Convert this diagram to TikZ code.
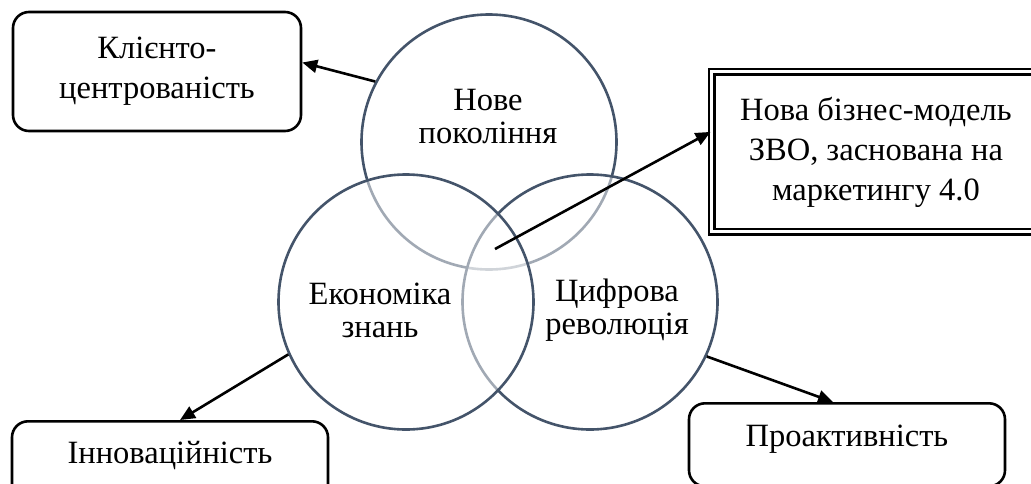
\documentclass[tikz,border=0pt]{standalone}
\usepackage{fontspec}
\setmainfont{Liberation Serif}
\usetikzlibrary{arrows.meta,calc}
\definecolor{ring}{HTML}{44546A}
\begin{document}
\begin{tikzpicture}[x=1pt,y=-1pt,
  circ/.style={circle,draw=ring,line width=2.6pt,fill=white,fill opacity=0.5,minimum size=255pt,inner sep=0pt},
  ctext/.style={align=center,font=\fontsize{32.5}{33}\selectfont,inner sep=0pt},
  rbox/.style={draw=black,line width=2.6pt,rounded corners=16pt,fill=white},
  btext/.style={align=center,font=\fontsize{32.5}{40}\selectfont},
  arr/.style={line width=2.6pt,-{Triangle[length=15pt,width=13pt]}}]
\useasboundingbox (0,0) rectangle (1031,483);
\clip (0,0) rectangle (1031,483);
% circles
\node[circ] (top) at (489,142) {};
\node[circ] (right) at (590,302) {};
\node[circ] (left) at (406,302) {};
\node[ctext] (ttop) at (488,117) {Нове\\покоління};
\node[ctext] (tleft) at (380,310) {Економіка\\знань};
\node[ctext] (tright) at (617,310) {Цифрова\\революція};
% boxes
\node[rbox,btext,minimum width=288pt,minimum height=119pt,inner sep=0pt] (kl) at (157,71.5) {Клієнто-\\центрованість};
\node[draw=black,line width=2.7pt,double=white,double distance=2.9pt,fill=white,
  minimum width=328pt,minimum height=160pt,inner sep=0pt,btext] (bm) at (875.9,151.9)
  {Нова бізнес-модель\\ЗВО, заснована на\\маркетингу 4.0};
\node[rbox,anchor=north,minimum width=316pt,inner sep=0pt,text height=42pt,text depth=40pt,
  font=\fontsize{32.5}{40}\selectfont] (in) at (170,420) {Інноваційність};
\node[rbox,anchor=north,minimum width=316pt,inner sep=0pt,text height=43pt,text depth=40pt,
  font=\fontsize{32.5}{40}\selectfont] (pr) at (847,402) {Проактивність};
% connectors
\coordinate (mid) at (495,249);
\draw[arr] (top.152) -- ($(kl.east)+(0,-9)$);
\draw[arr] (mid) -- ($(bm.west)+(0,-20)$);
\draw[arr] (left.204) -- ($(in.north)+(10,0)$);
\draw[arr] (right.335.6) -- ($(pr.north)+(-14,0)$);
\end{tikzpicture}
\end{document}
